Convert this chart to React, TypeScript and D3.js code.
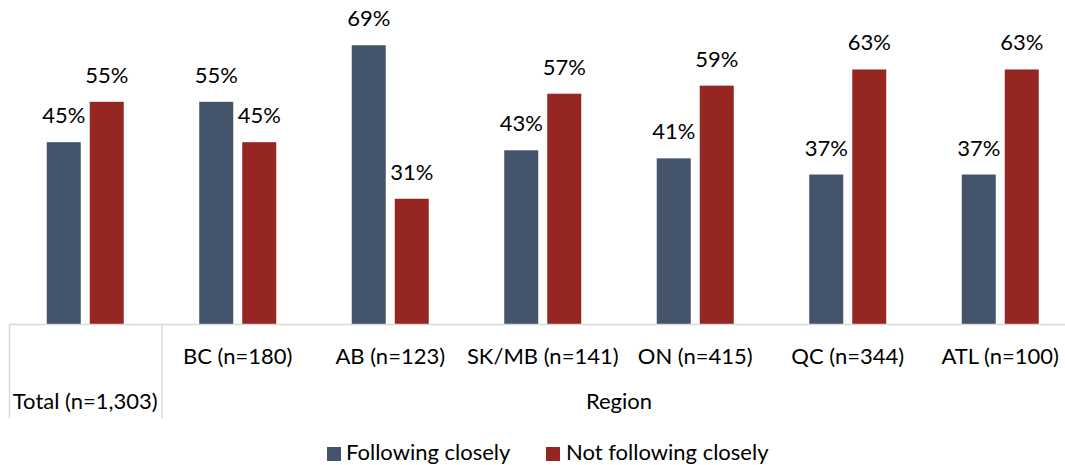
import React from "react";
import * as d3 from "d3";

const categories = ["Total (n=1,303)", "BC (n=180)", "AB (n=123)", "SK/MB (n=141)", "ON (n=415)", "QC (n=344)", "ATL (n=100)"];
const groupLabel = "Region";
const seriesNames = ["Following closely", "Not following closely"];
const following = [45, 55, 69, 43, 41, 37, 37];
const notFollowing = [55, 45, 31, 57, 59, 63, 63];
const colors = ["#44546A", "#952622"];

const W = 1065;
const H = 465;
const FONT = "Lato, 'Noto Sans', sans-serif";
const FS = 22;

export default function App() {
  const x = d3.scaleBand<string>().domain(categories).range([9, 9 + 152.5 * categories.length]).paddingInner(0).paddingOuter(0);
  const y = d3.scaleLinear().domain([0, 80]).range([324, 0.8]);
  const inner = d3.scaleBand<number>().domain([0, 1]).range([-38.5, 38.5]).paddingInner(9 / 43).paddingOuter(0);
  const series = [following, notFollowing];
  const baseY = y(0);

  return (
    <svg width={W} height={H} style={{ position: "absolute", left: 0, top: 0, background: "#fff" }} fontFamily={FONT}>
      {categories.map((c, i) => {
        const cx = x(c)! + x.bandwidth() / 2;
        return (
          <g key={c}>
            {series.map((s, k) => {
              const bx = cx + inner(k)!;
              const v = s[i];
              return (
                <g key={k}>
                  <rect x={bx} y={y(v)} width={inner.bandwidth()} height={baseY - y(v)} fill={colors[k]} />
                  <text x={bx + inner.bandwidth() / 2} y={y(v) - 19} textAnchor="middle" fontSize={FS} fill="#000">
                    {v}%
                  </text>
                </g>
              );
            })}
          </g>
        );
      })}
      <line x1={9} x2={W} y1={baseY + 0.5} y2={baseY + 0.5} stroke="#D9D9D9" strokeWidth={1.5} />
      <line x1={9.5} x2={9.5} y1={baseY} y2={418} stroke="#D9D9D9" strokeWidth={1.5} />
      <line x1={x(categories[1])! + 0.5} x2={x(categories[1])! + 0.5} y1={baseY} y2={418} stroke="#D9D9D9" strokeWidth={1.5} />
      {categories.slice(1).map((c) => (
        <text key={c} x={x(c)! + x.bandwidth() / 2} y={364} textAnchor="middle" fontSize={FS} fill="#000">
          {c}
        </text>
      ))}
      <text x={x(categories[0])! + x.bandwidth() / 2} y={409} textAnchor="middle" fontSize={FS} fill="#000">
        {categories[0]}
      </text>
      <text x={(x(categories[1])! + x(categories[categories.length - 1])! + x.bandwidth()) / 2} y={409} textAnchor="middle" fontSize={FS} fill="#000">
        {groupLabel}
      </text>
      <g>
        <rect x={327} y={447} width={14} height={14} fill={colors[0]} />
        <text x={346} y={459.5} fontSize={FS} fill="#000">{seriesNames[0]}</text>
        <rect x={546} y={447} width={14} height={14} fill={colors[1]} />
        <text x={566} y={459.5} fontSize={FS} fill="#000">{seriesNames[1]}</text>
      </g>
    </svg>
  );
}
